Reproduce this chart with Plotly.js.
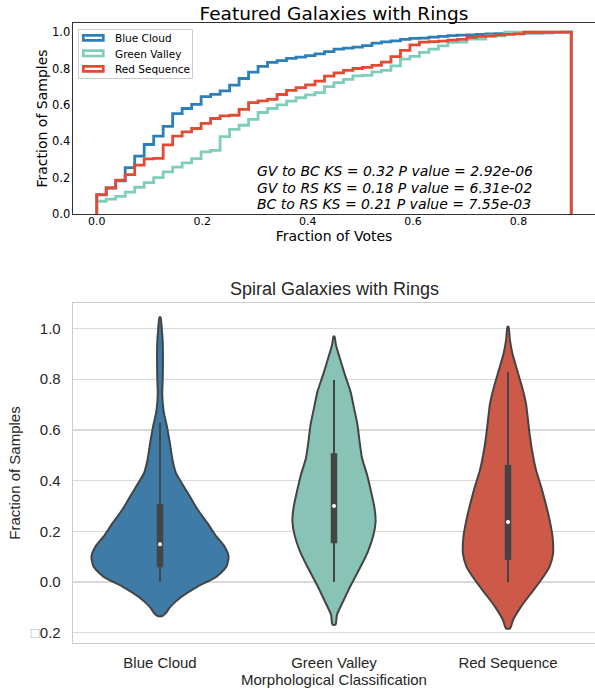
<!DOCTYPE html>
<html><head><meta charset="utf-8">
<script src="https://cdn.plot.ly/plotly-3.0.1.min.js"></script>
<style>html,body{margin:0;padding:0;background:#fff}#chart{width:595px;height:691px}</style>
</head><body><div id="chart"></div>
<script>
// ---------- data: top panel (cumulative step histograms) ----------
const binEdges = [0,0.018,0.036,0.054,0.072,0.09,0.108,0.126,0.144,0.162,0.18,0.198,0.216,0.234,0.252,0.27,0.288,0.306,0.324,0.342,0.36,0.378,0.396,0.414,0.432,0.45,0.468,0.486,0.504,0.522,0.54,0.558,0.576,0.594,0.612,0.63,0.648,0.666,0.684,0.702,0.72,0.738,0.756,0.774,0.792,0.81,0.828,0.846,0.864,0.882,0.9];
const blueCloudCdf = [0.105,0.143,0.182,0.255,0.318,0.382,0.428,0.482,0.552,0.58,0.603,0.645,0.658,0.677,0.708,0.745,0.78,0.812,0.833,0.843,0.856,0.862,0.871,0.88,0.893,0.906,0.912,0.917,0.926,0.939,0.946,0.952,0.96,0.965,0.967,0.972,0.976,0.981,0.983,0.985,0.988,0.99,0.992,0.992,0.993,0.994,0.995,0.996,0.998,1.0];
const greenValleyCdf = [0.07,0.082,0.097,0.12,0.147,0.172,0.2,0.232,0.258,0.281,0.304,0.342,0.35,0.425,0.465,0.488,0.52,0.558,0.58,0.6,0.621,0.639,0.655,0.667,0.7,0.722,0.74,0.759,0.762,0.781,0.79,0.814,0.851,0.866,0.888,0.906,0.924,0.943,0.945,0.961,0.961,0.979,0.98,1.0,1.0,1.0,1.0,1.0,1.0,1.0];
const redSequenceCdf = [0.106,0.144,0.186,0.216,0.269,0.303,0.306,0.38,0.428,0.452,0.47,0.498,0.525,0.539,0.543,0.575,0.612,0.622,0.63,0.657,0.68,0.695,0.71,0.73,0.758,0.776,0.79,0.8,0.806,0.817,0.835,0.865,0.9,0.93,0.945,0.948,0.95,0.956,0.96,0.971,0.976,0.978,0.985,0.987,0.99,1.0,1.0,1.0,1.0,1.0];
const seriesNames = ['Blue Cloud','Green Valley','Red Sequence'];
const stepColors = ['#2c7fb8','#7fcdbb','#e34a33'];
const ksLines = ['GV to BC KS = 0.32 P value = 2.92e-06','GV to RS KS = 0.18 P value = 6.31e-02','BC to RS KS = 0.21 P value = 7.55e-03'];
const topXTicks = [0,0.2,0.4,0.6,0.8];
const topYTicks = [0,0.2,0.4,0.6,0.8,1.0];

// ---------- data: bottom panel (violins) ----------
const categories = ['Blue Cloud','Green Valley','Red Sequence'];
const violinColors = ['#3e7ba6','#89c3b6','#cd5a49'];
const blueViolinY = [1.044,0.994,0.942,0.876,0.81,0.744,0.705,0.665,0.613,0.547,0.481,0.429,0.389,0.337,0.284,0.232,0.179,0.14,0.1,0.061,0.021,-0.018,-0.058,-0.097,-0.124,-0.134];
const blueViolinHalfWidth = [0.003,0.011,0.016,0.017,0.016,0.013,0.016,0.023,0.040,0.057,0.072,0.092,0.126,0.172,0.218,0.273,0.325,0.371,0.394,0.382,0.325,0.216,0.124,0.060,0.032,0.014];
const greenViolinY = [0.968,0.935,0.882,0.817,0.751,0.686,0.62,0.554,0.489,0.423,0.357,0.291,0.239,0.186,0.12,0.055,-0.011,-0.077,-0.129,-0.168];
const greenViolinHalfWidth = [0.003,0.011,0.034,0.063,0.095,0.115,0.135,0.147,0.161,0.190,0.213,0.233,0.239,0.227,0.195,0.149,0.098,0.052,0.017,0.009];
const redViolinY = [1.007,0.955,0.902,0.837,0.771,0.705,0.639,0.574,0.508,0.442,0.377,0.311,0.245,0.179,0.113,0.061,0.008,-0.045,-0.097,-0.15,-0.183];
const redViolinHalfWidth = [0.003,0.011,0.025,0.052,0.080,0.103,0.115,0.126,0.141,0.161,0.190,0.216,0.239,0.256,0.259,0.239,0.190,0.132,0.075,0.029,0.012];
const whiskerLow = [0,0,0];
const boxQ1 = [0.058,0.153,0.087];
const boxMedian = [0.149,0.300,0.237];
const boxQ3 = [0.308,0.508,0.462];
const whiskerHigh = [0.628,0.797,0.827];
const bottomYTicks = [-0.2,0,0.2,0.4,0.6,0.8,1.0];
const bottomYTickText = ['<span style="color:#b8b8b8">\u25A1</span>0.2','0.0','0.2','0.4','0.6','0.8','1.0'];

// ---------- build ----------
const cdfs = [blueCloudCdf, greenValleyCdf, redSequenceCdf];
function stepXY(cdf){
  const x=[binEdges[0]], y=[0];
  for(let k=0;k<cdf.length;k++){ x.push(binEdges[k]); y.push(cdf[k]); }
  x.push(binEdges[cdf.length]); y.push(cdf[cdf.length-1]);
  x.push(binEdges[cdf.length]); y.push(0);
  return {x,y};
}
const traces = [];
cdfs.forEach((c,i)=>{
  const s = stepXY(c);
  traces.push({type:'scatter', mode:'lines', x:s.x, y:s.y, xaxis:'x', yaxis:'y',
    line:{color:stepColors[i], width:2.8, shape:'hv'}, name:seriesNames[i], showlegend:false, hoverinfo:'skip'});
});
const violinYs = [blueViolinY, greenViolinY, redViolinY];
const violinWs = [blueViolinHalfWidth, greenViolinHalfWidth, redViolinHalfWidth];
categories.forEach((cat,i)=>{
  const ys = violinYs[i], ws = violinWs[i];
  const x=[], y=[];
  for(let k=0;k<ys.length;k++){ x.push(i+ws[k]); y.push(ys[k]); }
  for(let k=ys.length-1;k>=0;k--){ x.push(i-ws[k]); y.push(ys[k]); }
  x.push(x[0]); y.push(y[0]);
  traces.push({type:'scatter', mode:'lines', x, y, xaxis:'x2', yaxis:'y2', fill:'toself',
    fillcolor:violinColors[i], line:{color:'#444444', width:2, shape:'spline', smoothing:0.6},
    name:cat, showlegend:false, hoverinfo:'skip'});
  traces.push({type:'scatter', mode:'lines', x:[i,i], y:[whiskerLow[i], whiskerHigh[i]], xaxis:'x2', yaxis:'y2',
    line:{color:'#444444', width:2}, showlegend:false, hoverinfo:'skip'});
  traces.push({type:'scatter', mode:'lines', x:[i,i], y:[boxQ1[i], boxQ3[i]], xaxis:'x2', yaxis:'y2',
    line:{color:'#444444', width:6.5}, showlegend:false, hoverinfo:'skip'});
  traces.push({type:'scatter', mode:'markers', x:[i], y:[boxMedian[i]], xaxis:'x2', yaxis:'y2',
    marker:{color:'#ffffff', size:4}, showlegend:false, hoverinfo:'skip'});
});

// pixel helpers for decorations (plot area: left 73, top 23, width 522, height 620)
const PX = v => (v-73)/522;
const PY = v => (643-v)/620;

const shapes = [
  {type:'rect', xref:'paper', yref:'paper', x0:PX(78.5), x1:PX(192.5), y0:PY(78.5), y1:PY(29.5),
   line:{color:'#cccccc', width:1}, fillcolor:'rgba(255,255,255,0.8)', layer:'above'}
];
const legendY = [[35.3,40.3],[50.6,56],[66.3,71.4]];
const legendTextY = [38,53.5,69];
const annotations = [];
seriesNames.forEach((n,i)=>{
  shapes.push({type:'rect', xref:'paper', yref:'paper', x0:PX(83.3), x1:PX(103.3), y0:PY(legendY[i][1]), y1:PY(legendY[i][0]),
    line:{color:stepColors[i], width:2.7}, fillcolor:'#ffffff', layer:'above'});
  annotations.push({xref:'paper', yref:'paper', x:PX(112.5), y:PY(legendTextY[i]), xanchor:'left', yanchor:'middle',
    text:n, showarrow:false, font:{family:'DejaVu Sans', size:10.5, color:'#000'}});
});
// KS statistics block: one text; base size sets the line pitch, inner span sets glyph size
annotations.push({xref:'x', yref:'y', x:0.3, y:0.1457, xanchor:'left', yanchor:'middle', align:'left',
  text: ksLines.map(t=>'<span style="font-size:14px"><i>'+t+'</i></span>').join('<br>'),
  showarrow:false, font:{family:'DejaVu Sans', size:12.7, color:'#000'}});
annotations.push({xref:'paper', yref:'paper', x:0.5, y:PY(288.5), xanchor:'center', yanchor:'middle',
  text:'Spiral Galaxies with Rings', showarrow:false, font:{family:'Liberation Sans, Arial', size:18, color:'#262626'}});
// top-panel y-axis title
annotations.push({xref:'paper', yref:'paper', x:PX(41), y:PY(118.5), xanchor:'center', yanchor:'middle', textangle:-90,
  text:'Fraction of Samples', showarrow:false, font:{family:'DejaVu Sans', size:14, color:'#000'}});

const layout = {
  width:595, height:691, margin:{l:73, r:0, t:23, b:48},
  paper_bgcolor:'#ffffff', plot_bgcolor:'#ffffff', showlegend:false,
  title:{text:'Featured Galaxies with Rings', font:{family:'DejaVu Sans', size:18.5, color:'#000'},
    x:0.5, xref:'paper', y:1-13.5/691, yref:'container', yanchor:'middle'},
  xaxis:{domain:[0,1], range:[-0.045,0.945], anchor:'y', tickvals:topXTicks, tickformat:'.1f',
    ticks:'', showgrid:false, zeroline:false, showline:true, mirror:true, linecolor:'#333333', linewidth:1.4,
    ticklabelstandoff:-4,
    tickfont:{family:'DejaVu Sans', size:11, color:'#000'},
    title:{text:'Fraction of Votes', font:{family:'DejaVu Sans', size:14, color:'#000'}, standoff:0}},
  yaxis:{domain:[PY(214),1], range:[0,1.05], anchor:'x', tickvals:topYTicks, tickformat:'.1f',
    ticks:'', showgrid:false, zeroline:false, showline:true, mirror:true, linecolor:'#333333', linewidth:1.4,
    ticklabelstandoff:-1,
    tickfont:{family:'DejaVu Sans', size:11.5, color:'#000'}},
  xaxis2:{domain:[0,1], range:[-0.5,2.5], anchor:'y2', tickvals:[0,1,2], ticktext:categories,
    ticks:'', showgrid:false, zeroline:false, showline:true, mirror:true, linecolor:'#cccccc', linewidth:1.3,
    ticklabelstandoff:6,
    tickfont:{family:'Liberation Sans, Arial', size:15, color:'#262626'},
    title:{text:'Morphological Classification', font:{family:'Liberation Sans, Arial', size:15, color:'#262626'}, standoff:4}},
  yaxis2:{domain:[0,PY(303)], range:[-0.2406,1.1006], anchor:'x2', tickvals:bottomYTicks, ticktext:bottomYTickText,
    ticks:'', showgrid:true, gridcolor:'#d9d9d9', gridwidth:1.3, zeroline:false, showline:true, mirror:true,
    linecolor:'#cccccc', linewidth:1.3, ticklabelstandoff:8,
    tickfont:{family:'Liberation Sans, Arial', size:15, color:'#262626'},
    title:{text:'Fraction of Samples', font:{family:'Liberation Sans, Arial', size:15, color:'#262626'}, standoff:6}},
  shapes, annotations
};
Plotly.newPlot('chart', traces, layout, {staticPlot:true, displayModeBar:false});
</script>
</body></html>
